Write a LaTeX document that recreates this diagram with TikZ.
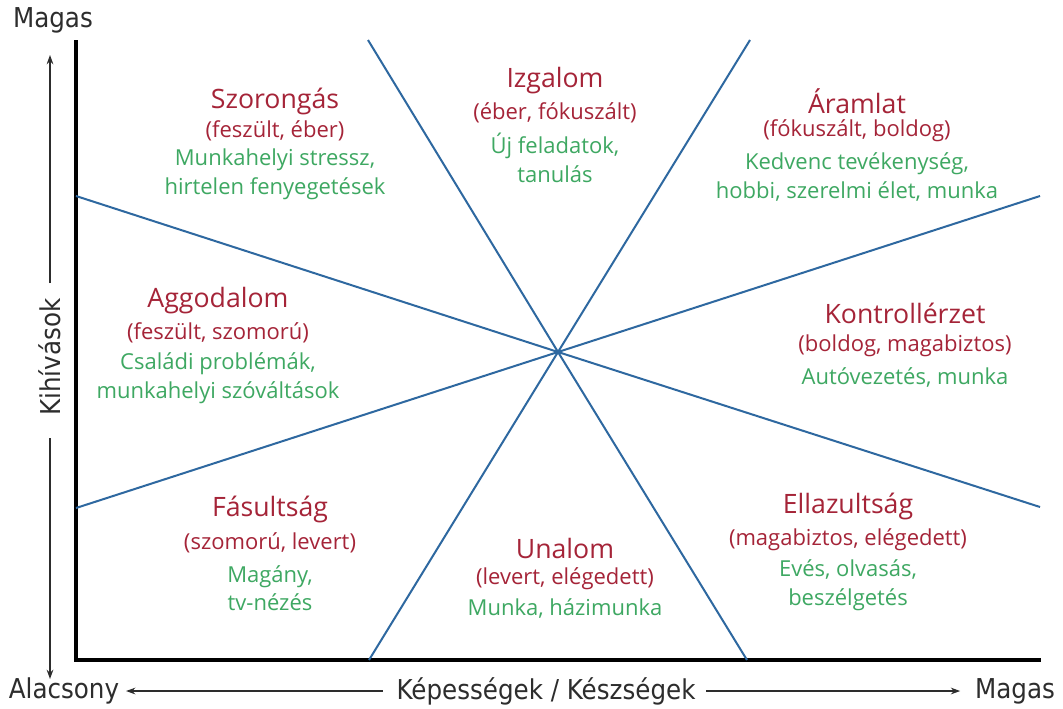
\documentclass[tikz,border=0pt]{standalone}
\usepackage{fontspec}
\setmainfont{Open Sans}
\newfontfamily\axisfont{DejaVu Sans Condensed}
\usetikzlibrary{arrows.meta}
\definecolor{ttl}{RGB}{165,36,56}
\definecolor{grn}{RGB}{62,168,98}
\definecolor{bl}{RGB}{46,104,160}
\definecolor{axc}{RGB}{45,45,45}
\begin{document}
\begin{tikzpicture}[x=0.75pt,y=-0.75pt,
  title/.style={text=ttl,font=\fontsize{20}{22}\selectfont,inner sep=0pt},
  sub/.style={text=ttl,font=\fontsize{16.5}{18}\selectfont,inner sep=0pt},
  ex/.style={text=grn,font=\fontsize{16.5}{21.5}\selectfont,inner sep=0pt,align=center},
  axlab/.style={text=axc,font=\axisfont\fontsize{20.5}{22}\selectfont,inner sep=0pt},
  divline/.style={draw=bl,line width=1.5pt},
  axisline/.style={draw=black,line width=2.4pt},
  thinarrow/.style={draw=axc,line width=1.1pt,-{Stealth[length=7pt,width=5pt]}}]
\useasboundingbox (0,0) rectangle (1063,708);
\fill[white] (0,0) rectangle (1063,708);
% axes
\coordinate (o) at (76,660);
\coordinate (ytop) at (76,40);
\coordinate (xend) at (1041,660);
\draw[axisline] (ytop) -- (o) -- (xend);
% diagonal lines
\coordinate (c) at (558,352);
\coordinate (a1) at (368,40);
\coordinate (a2) at (747,660);
\coordinate (b1) at (750,40);
\coordinate (b2) at (369,660);
\coordinate (d1) at (76,196);
\coordinate (d2) at (1040,507);
\coordinate (e1) at (76,508);
\coordinate (e2) at (1040,196);
\draw[divline] (a1) -- (c) -- (a2);
\draw[divline] (b1) -- (c) -- (b2);
\draw[divline] (d1) -- (c) -- (d2);
\draw[divline] (e1) -- (c) -- (e2);
% axis labels
\node[axlab] (ymax) at (53,20) {Magas};
\node[axlab,rotate=90] (ylab) at (50,357) {Kihívások};
\coordinate (yup) at (50,55);
\coordinate (ydn) at (50,679);
\coordinate (yu0) at (50,283);
\coordinate (yd0) at (50,438);
\draw[thinarrow] (yu0) -- (yup);
\draw[thinarrow] (yd0) -- (ydn);
\node[axlab] (xmin) at (64,691) {Alacsony};
\node[axlab] (xlab) at (546,691) {Képességek / Készségek};
\node[axlab] (xmax) at (1015,691) {Magas};
\draw[thinarrow] ([xshift=-10pt]xlab.west) -- ([xshift=5pt]xmin.east);
\draw[thinarrow] ([xshift=8pt]xlab.east) -- ([xshift=-11pt]xmax.west);
% regions
\node[title] (t1) at (275,101) {Szorongás};
\node[sub] (s1) at (275,131) {(feszült, éber)};
\node[ex] (g1) at (275,174) {Munkahelyi stressz,\\hirtelen fenyegetések};

\node[title] (t2) at (555,81) {Izgalom};
\node[sub] (s2) at (555,113) {(éber, fókuszált)};
\node[ex] (g2) at (555,158) {Új feladatok,\\tanulás};

\node[title] (t3) at (857,101) {Áramlat};
\node[sub] (s3) at (857,131) {(fókuszált, boldog)};
\node[ex] (g3) at (857,177) {Kedvenc tevékenység,\\hobbi, szerelmi élet, munka};

\node[title] (t4) at (218,301) {Aggodalom};
\node[sub] (s4) at (218,333) {(feszült, szomorú)};
\node[ex] (g4) at (218,378) {Családi problémák,\\munkahelyi szóváltások};

\node[title] (t5) at (905,313) {Kontrollérzet};
\node[sub] (s5) at (905,346) {(boldog, magabiztos)};
\node[ex] (g5) at (905,377) {Autóvezetés, munka};

\node[title] (t6) at (270,509) {Fásultság};
\node[sub] (s6) at (270,543) {(szomorú, levert)};
\node[ex] (g6) at (270,588) {Magány,\\tv-nézés};

\node[title] (t7) at (565,548) {Unalom};
\node[sub] (s7) at (565,579) {(levert, elégedett)};
\node[ex] (g7) at (565,608) {Munka, házimunka};

\node[title] (t8) at (848,506) {Ellazultság};
\node[sub] (s8) at (848,540) {(magabiztos, elégedett)};
\node[ex] (g8) at (848,585) {Evés, olvasás,\\beszélgetés};
\end{tikzpicture}
\end{document}
